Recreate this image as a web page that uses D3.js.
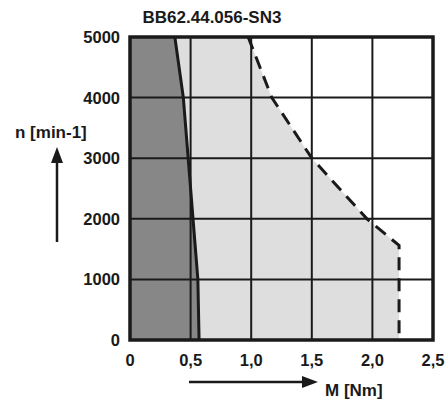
<!DOCTYPE html>
<html>
<head>
<meta charset="utf-8">
<script src="https://cdn.jsdelivr.net/npm/d3@7"></script>
<style>
  body { margin: 0; background: #fff; }
  text { font-family: "Liberation Sans", Arial, sans-serif; font-weight: bold; fill: #1a1a1a; }
</style>
</head>
<body>
<div id="chart"></div>
<script>
// torque ticks (Nm) and speed ticks (min-1)
var torqueTicks = [0, 0.5, 1.0, 1.5, 2.0, 2.5];
var speedTicks = [0, 1000, 2000, 3000, 4000, 5000];

// continuous operation limit (solid line), [M, n]
var contLimit = [[0.37, 5000], [0.44, 4000], [0.48, 3000], [0.52, 2000], [0.56, 1000], [0.57, 0]];
// short-time operation limit (dashed line), [M, n]
var peakLimit = [[0.975, 5000], [1.17, 4000], [1.5, 3000], [1.955, 2000], [2.22, 1560], [2.22, 0]];

var W = 445, H = 403;
var margin = {top: 37, left: 130, right: 12, bottom: 63};

var svg = d3.select("#chart").append("svg")
    .attr("width", W)
    .attr("height", H);

var x = d3.scaleLinear().domain([0, 2.5]).range([margin.left, W - margin.right]);
var y = d3.scaleLinear().domain([0, 5000]).range([H - margin.bottom, margin.top]);

var line = d3.line().x(function(d){ return x(d[0]); }).y(function(d){ return y(d[1]); });

// light region between the two limits
var lightPts = contLimit.concat(peakLimit.slice().reverse());
svg.append("path")
    .attr("d", line(lightPts) + "Z")
    .attr("fill", "#dedede");

// dark region (continuous)
var darkPts = [[0, 0], [0, 5000]].concat(contLimit);
svg.append("path")
    .attr("d", line(darkPts) + "Z")
    .attr("fill", "#878787");

// grid
svg.append("g").selectAll("line").data(torqueTicks.slice(1, -1))
  .enter().append("line")
    .attr("x1", function(d){ return x(d); }).attr("x2", function(d){ return x(d); })
    .attr("y1", y(0)).attr("y2", y(5000))
    .attr("stroke", "#1a1a1a").attr("stroke-width", 2);
svg.append("g").selectAll("line").data(speedTicks.slice(1, -1))
  .enter().append("line")
    .attr("y1", function(d){ return y(d); }).attr("y2", function(d){ return y(d); })
    .attr("x1", x(0)).attr("x2", x(2.5))
    .attr("stroke", "#1a1a1a").attr("stroke-width", 2);

// frame
svg.append("rect")
    .attr("x", x(0)).attr("y", y(5000))
    .attr("width", x(2.5) - x(0)).attr("height", y(0) - y(5000))
    .attr("fill", "none").attr("stroke", "#1a1a1a").attr("stroke-width", 3.5);

// limit lines
svg.append("path")
    .attr("d", line(peakLimit))
    .attr("fill", "none").attr("stroke", "#1a1a1a").attr("stroke-width", 3)
    .attr("stroke-dasharray", "13,8");
svg.append("path")
    .attr("d", line(contLimit))
    .attr("fill", "none").attr("stroke", "#1a1a1a").attr("stroke-width", 3);

// axis labels
var fmt = function(d){ return d === 0 ? "0" : d3.format(".1f")(d).replace(".", ","); };
svg.append("g").selectAll("text").data(torqueTicks)
  .enter().append("text")
    .attr("x", function(d){ return x(d); })
    .attr("y", H - margin.bottom + 26)
    .attr("text-anchor", "middle")
    .style("font-size", "16.5px")
    .text(fmt);
svg.append("g").selectAll("text").data(speedTicks)
  .enter().append("text")
    .attr("x", x(0) - 10)
    .attr("y", function(d){ return y(d) + 6; })
    .attr("text-anchor", "end")
    .style("font-size", "16.5px")
    .text(function(d){ return d; });

// title
svg.append("text")
    .attr("x", 212).attr("y", 23)
    .attr("text-anchor", "middle")
    .style("font-size", "17px")
    .text("BB62.44.056-SN3");

// axis titles with arrows
svg.append("text")
    .attr("x", 15).attr("y", 138)
    .style("font-size", "17px")
    .text("n [min-1]");
svg.append("line")
    .attr("x1", 57).attr("x2", 57).attr("y1", 242).attr("y2", 160)
    .attr("stroke", "#1a1a1a").attr("stroke-width", 2.5);
svg.append("path")
    .attr("d", "M57,147 L51,163 L63,163 Z")
    .attr("fill", "#1a1a1a");

svg.append("line")
    .attr("x1", 189).attr("x2", 305).attr("y1", 382).attr("y2", 382)
    .attr("stroke", "#1a1a1a").attr("stroke-width", 2.5);
svg.append("path")
    .attr("d", "M318,382 L302,376 L302,388 Z")
    .attr("fill", "#1a1a1a");
svg.append("text")
    .attr("x", 325).attr("y", 396)
    .style("font-size", "17px")
    .text("M [Nm]");
</script>
</body>
</html>
